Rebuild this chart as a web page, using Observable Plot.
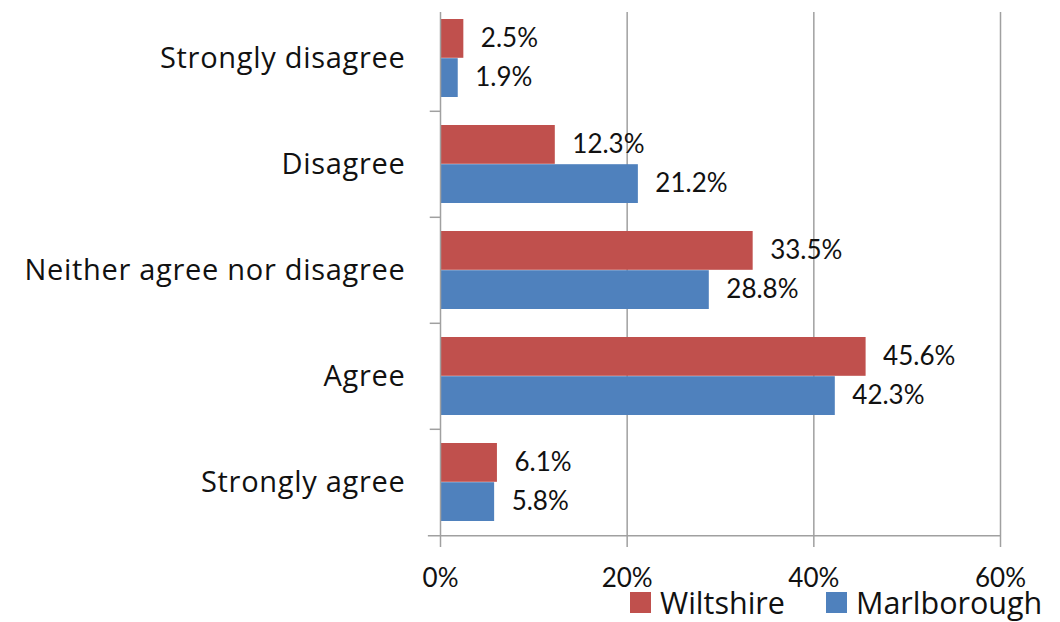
<!DOCTYPE html>
<html>
<head>
<meta charset="utf-8">
<script src="https://cdn.jsdelivr.net/npm/d3@7"></script>
<script src="https://cdn.jsdelivr.net/npm/@observablehq/plot@0.6"></script>
<style>
  html, body { margin: 0; padding: 0; background: #fff; }
  #wrap { position: relative; width: 1060px; height: 622px; font-family: Lato, sans-serif; }
  #legend { position: absolute; left: 630px; top: 587px; display: flex; align-items: center; font-family: "Open Sans", sans-serif; font-size: 30.5px; color: #111; line-height: 31px; }
  #legend .sw { display: inline-block; width: 21px; height: 21px; margin-right: 9px; }
  #legend .item { display: flex; align-items: center; margin-right: 41px; }
  g[aria-label="y-axis tick label"] text { font-family: "Open Sans", sans-serif; letter-spacing: 0.7px; }
</style>
</head>
<body>
<div id="wrap">
  <div id="chart"></div>
  <div id="legend"></div>
</div>
<script>
const categories = ["Strongly disagree", "Disagree", "Neither agree nor disagree", "Agree", "Strongly agree"];
const series = ["Wiltshire", "Marlborough"];
const colors = ["#C0504D", "#4F81BD"];
const wiltshire = [2.5, 12.3, 33.5, 45.6, 6.1];
const marlborough = [1.9, 21.2, 28.8, 42.3, 5.8];
const xTicks = [0, 20, 40, 60];

const wData = categories.map((c, i) => ({cat: c, v: wiltshire[i]}));
const mData = categories.map((c, i) => ({cat: c, v: marlborough[i]}));
const gridColor = "#a0a0a0";

const chart = Plot.plot({
  width: 1060,
  height: 588,
  marginTop: 4,
  marginBottom: 52,
  marginLeft: 440,
  marginRight: 60,
  style: {fontFamily: "Lato, sans-serif", fontSize: "26px", background: "#fff", color: "#000", overflow: "visible"},
  x: {domain: [0, 60], label: null},
  y: {domain: categories, padding: 0, label: null},
  marks: [
    Plot.ruleX(xTicks.slice(1), {stroke: gridColor, strokeWidth: 1.5, insetTop: 8}),
    Plot.barX(wData, {y: "cat", x: "v", fill: colors[0], insetTop: 14, insetBottom: 53.2}),
    Plot.barX(mData, {y: "cat", x: "v", fill: colors[1], insetTop: 53.2, insetBottom: 14}),
    Plot.ruleX([0], {stroke: gridColor, strokeWidth: 1.5, insetTop: 8}),
    Plot.ruleY(categories.slice(1), {y: d => d, dy: -53.2, x1: -1.1, x2: 0, stroke: gridColor, strokeWidth: 1.5}),
    Plot.ruleY(categories.slice(-1), {y: d => d, dy: 53.2, x1: -1.3, x2: 60, stroke: gridColor, strokeWidth: 1.5}),
    Plot.text(wData, {y: "cat", x: "v", text: d => d.v.toFixed(1) + "%", dx: 17, dy: -19.6, textAnchor: "start", fill: "#111", fontSize: 26}),
    Plot.text(mData, {y: "cat", x: "v", text: d => d.v.toFixed(1) + "%", dx: 17, dy: 19.6, textAnchor: "start", fill: "#111", fontSize: 26}),
    Plot.axisY({tickSize: 0, tickPadding: 35, fontSize: 29, fill: "#111", label: null}),
    Plot.axisX({ticks: xTicks, tickFormat: d => d + "%", tickSize: 11, tickPadding: 21, stroke: gridColor, strokeWidth: 1.5, fill: "#111", fontSize: 26, label: null})
  ]
});
document.getElementById("chart").appendChild(chart);

const legend = document.getElementById("legend");
series.forEach((s, i) => {
  const item = document.createElement("span");
  item.className = "item";
  const sw = document.createElement("span");
  sw.className = "sw";
  sw.style.background = colors[i];
  item.appendChild(sw);
  item.appendChild(document.createTextNode(s));
  legend.appendChild(item);
});
</script>
</body>
</html>
